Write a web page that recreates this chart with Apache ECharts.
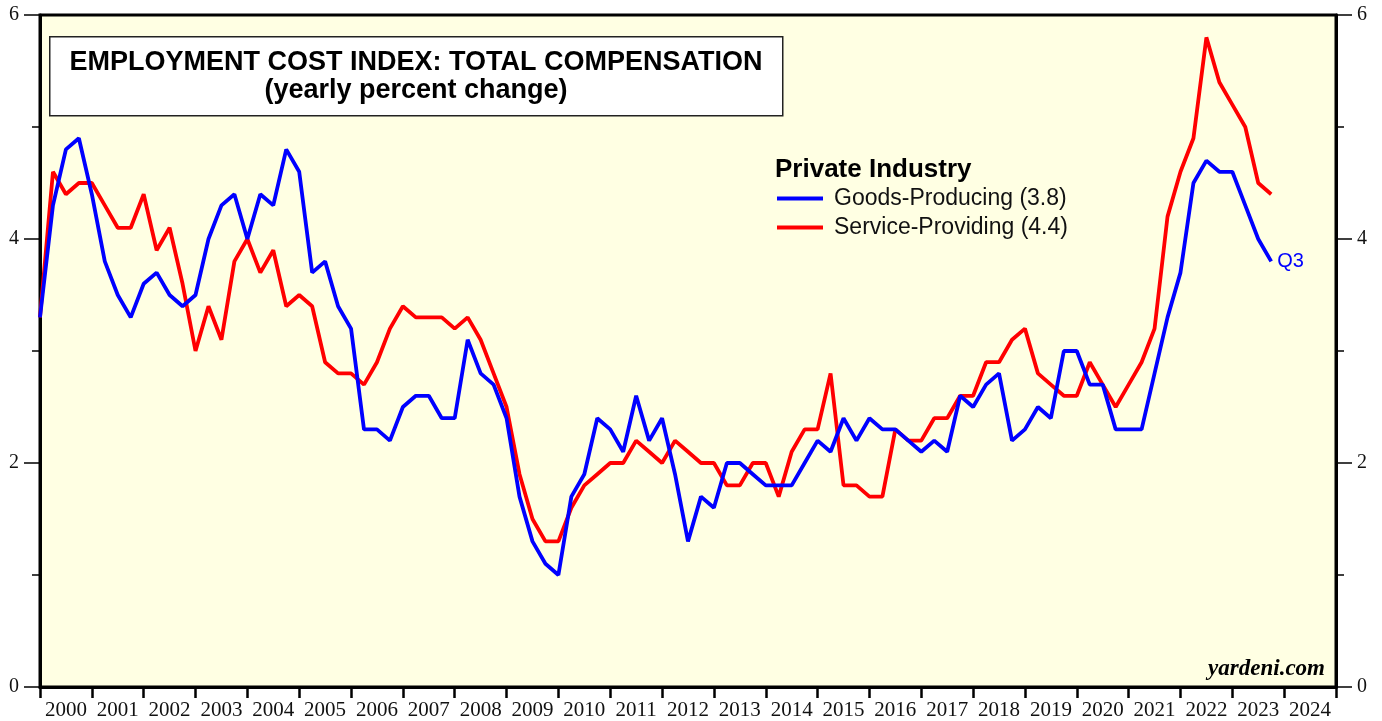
<!DOCTYPE html>
<html>
<head>
<meta charset="utf-8">
<script src="https://cdn.jsdelivr.net/npm/echarts@6/dist/echarts.min.js"></script>
<style>
  html, body { margin: 0; padding: 0; background: #fff; }
  #chart { width: 1382px; height: 721px; }
</style>
</head>
<body>
<div id="chart"></div>
<script>
// yearly % change, quarterly, first point sits on the 2000 tick
const startYear = 2000;
const years = ['2000', '2001', '2002', '2003', '2004', '2005', '2006', '2007', '2008', '2009', '2010', '2011',
  '2012', '2013', '2014', '2015', '2016', '2017', '2018', '2019', '2020', '2021', '2022', '2023', '2024'];

const goodsProducing = [
  3.3, 4.3, 4.8, 4.9, 4.4, 3.8, 3.5, 3.3, 3.6, 3.7, 3.5, 3.4,
  3.5, 4.0, 4.3, 4.4, 4.0, 4.4, 4.3, 4.8, 4.6, 3.7, 3.8, 3.4,
  3.2, 2.3, 2.3, 2.2, 2.5, 2.6, 2.6, 2.4, 2.4, 3.1, 2.8, 2.7,
  2.4, 1.7, 1.3, 1.1, 1.0, 1.7, 1.9, 2.4, 2.3, 2.1, 2.6, 2.2,
  2.4, 1.9, 1.3, 1.7, 1.6, 2.0, 2.0, 1.9, 1.8, 1.8, 1.8, 2.0,
  2.2, 2.1, 2.4, 2.2, 2.4, 2.3, 2.3, 2.2, 2.1, 2.2, 2.1, 2.6,
  2.5, 2.7, 2.8, 2.2, 2.3, 2.5, 2.4, 3.0, 3.0, 2.7, 2.7, 2.3,
  2.3, 2.3, 2.8, 3.3, 3.7, 4.5, 4.7, 4.6, 4.6, 4.3, 4.0, 3.8
];

const serviceProviding = [
  3.3, 4.6, 4.4, 4.5, 4.5, 4.3, 4.1, 4.1, 4.4, 3.9, 4.1, 3.6,
  3.0, 3.4, 3.1, 3.8, 4.0, 3.7, 3.9, 3.4, 3.5, 3.4, 2.9, 2.8,
  2.8, 2.7, 2.9, 3.2, 3.4, 3.3, 3.3, 3.3, 3.2, 3.3, 3.1, 2.8,
  2.5, 1.9, 1.5, 1.3, 1.3, 1.6, 1.8, 1.9, 2.0, 2.0, 2.2, 2.1,
  2.0, 2.2, 2.1, 2.0, 2.0, 1.8, 1.8, 2.0, 2.0, 1.7, 2.1, 2.3,
  2.3, 2.8, 1.8, 1.8, 1.7, 1.7, 2.3, 2.2, 2.2, 2.4, 2.4, 2.6,
  2.6, 2.9, 2.9, 3.1, 3.2, 2.8, 2.7, 2.6, 2.6, 2.9, 2.7, 2.5,
  2.7, 2.9, 3.2, 4.2, 4.6, 4.9, 5.8, 5.4, 5.2, 5.0, 4.5, 4.4
];

const toPoints = arr => arr.map((v, i) => [startYear + i / 4, v]);

const chart = echarts.init(document.getElementById('chart'));

const serif = '"Liberation Serif", "DejaVu Serif", serif';
const sans = '"Liberation Sans", Arial, sans-serif';

const yAxisBase = {
  type: 'value',
  min: 0,
  max: 6,
  interval: 2,
  splitLine: { show: false },
  axisLine: { show: true, lineStyle: { color: '#000', width: 3 } },
  axisTick: { show: true, length: 16, lineStyle: { color: '#000', width: 1.5 } },
  minorTick: { show: true, splitNumber: 2, length: 8, lineStyle: { color: '#000', width: 1.5 } },
  axisLabel: { color: '#111', fontFamily: serif, fontSize: 20, margin: 21 }
};

chart.setOption({
  backgroundColor: '#fff',
  animation: false,
  grid: {
    left: 40,
    right: 46,
    top: 15,
    bottom: 34,
    show: true,
    backgroundColor: '#FFFFE3',
    borderColor: '#000',
    borderWidth: 3
  },
  legend: {
    orient: 'vertical',
    left: 772,
    top: 182,
    icon: 'rect',
    itemWidth: 46,
    itemHeight: 4,
    itemGap: 6,
    textStyle: { fontFamily: sans, fontSize: 23, color: '#111', padding: [0, 0, 0, 6] },
    data: ['Goods-Producing (3.8)', 'Service-Providing (4.4)']
  },
  xAxis: [
    {
      type: 'category',
      data: years,
      position: 'bottom',
      boundaryGap: true,
      axisLine: { show: true, lineStyle: { color: '#000', width: 3 } },
      axisTick: { show: true, length: 11, interval: 0, lineStyle: { color: '#000', width: 2.5 } },
      axisLabel: { color: '#111', fontFamily: serif, fontSize: 21, margin: 13, interval: 0 },
      splitLine: { show: false }
    },
    {
      type: 'value',
      min: 2000,
      max: 2025,
      show: false
    }
  ],
  yAxis: [
    Object.assign({}, yAxisBase, { position: 'left' }),
    Object.assign({}, yAxisBase, { position: 'right' })
  ],
  series: [
    {
      name: 'Goods-Producing (3.8)',
      type: 'line',
      xAxisIndex: 1,
      yAxisIndex: 0,
      data: toPoints(goodsProducing),
      symbol: 'none',
      color: '#0000FF',
      lineStyle: { color: '#0000FF', width: 3.8 },
      endLabel: {
        show: true,
        formatter: 'Q3',
        color: '#0000FF',
        fontFamily: sans,
        fontSize: 20,
        distance: 6
      },
      z: 3
    },
    {
      name: 'Service-Providing (4.4)',
      type: 'line',
      xAxisIndex: 1,
      yAxisIndex: 0,
      data: toPoints(serviceProviding),
      symbol: 'none',
      color: '#FF0000',
      lineStyle: { color: '#FF0000', width: 3.8 },
      z: 2
    }
  ],
  graphic: [
    {
      type: 'rect',
      left: 49,
      top: 36,
      shape: { width: 733, height: 79 },
      style: { fill: '#fff', stroke: '#222', lineWidth: 1.5 },
      z: 10
    },
    {
      type: 'text',
      x: 416,
      y: 49,
      style: {
        text: 'EMPLOYMENT COST INDEX: TOTAL COMPENSATION\n(yearly percent change)',
        fill: '#000',
        font: 'bold 27px ' + sans,
        align: 'center',
        verticalAlign: 'top',
        lineHeight: 28
      },
      z: 11
    },
    {
      type: 'text',
      left: 775,
      top: 157,
      style: { text: 'Private Industry', fill: '#000', font: 'bold 26px ' + sans },
      z: 11
    },
    {
      type: 'text',
      right: 57,
      top: 658,
      style: { text: 'yardeni.com', fill: '#000', font: 'italic bold 23px ' + serif },
      z: 11
    }
  ]
});
</script>
</body>
</html>
